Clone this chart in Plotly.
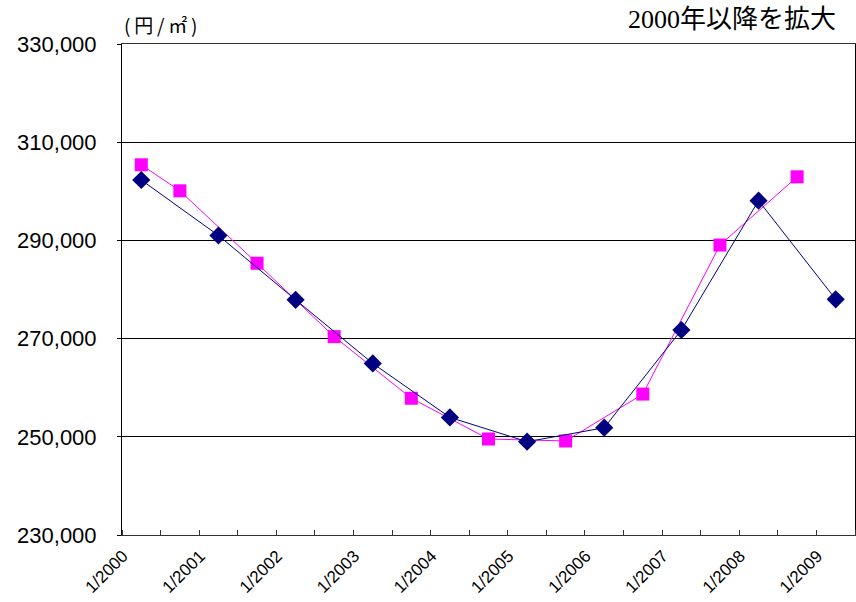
import plotly.graph_objects as go

# half-year periods (Jan / Jul)
periods = ["1/2000", "7/2000", "1/2001", "7/2001", "1/2002", "7/2002", "1/2003", "7/2003",
           "1/2004", "7/2004", "1/2005", "7/2005", "1/2006", "7/2006", "1/2007", "7/2007",
           "1/2008", "7/2008", "1/2009"]
tick_labels = ["1/2000", "1/2001", "1/2002", "1/2003", "1/2004", "1/2005", "1/2006",
               "1/2007", "1/2008", "1/2009"]

# navy series (January values)
navy_vals = [302300, None, 291000, None, 277900, None, 264950, None, 253950, None,
             249000, None, 251850, None, 271750, None, 298100, None, 278000]
# magenta series (July values, plus Jan 2000)
magenta_vals = [305400, 300100, None, 285350, None, 270400, None, 257850, None, 249550,
                None, 249150, None, 258700, None, 289050, None, 302950, None]

x_idx = list(range(len(periods)))
tick_pos = [i for i, p in enumerate(periods) if p in tick_labels]
pad = "\u00a0"

fig = go.Figure()
fig.add_trace(go.Scatter(
    x=x_idx, y=magenta_vals, mode="lines+markers", connectgaps=True,
    line=dict(color="#FF00FF", width=1),
    marker=dict(symbol="square", size=13, color="#FF00FF"),
    showlegend=False, hoverinfo="skip"))
fig.add_trace(go.Scatter(
    x=x_idx, y=navy_vals, mode="lines+markers", connectgaps=True,
    line=dict(color="#000080", width=1),
    marker=dict(symbol="diamond", size=14, color="#000080"),
    showlegend=False, hoverinfo="skip"))

fig.update_layout(
    width=856, height=602,
    margin=dict(l=122, r=1, t=44, b=67),
    paper_bgcolor="white", plot_bgcolor="white",
    font=dict(family="Liberation Sans, Arial, sans-serif", color="black"),
    xaxis=dict(
        range=[-0.5, len(periods) - 0.5], automargin=False,
        tickmode="array", tickvals=tick_pos, ticktext=[t + pad for t in tick_labels],
        tickangle=-45, ticks="", showgrid=False, zeroline=False,
        showline=True, linecolor="#333333", linewidth=1, mirror=True,
        tickfont=dict(size=17), ticklabelshift=-15,
        minor=dict(tickmode="array",
                   tickvals=[i - 0.5 for i in range(len(periods) + 1)],
                   ticks="inside", ticklen=5, tickcolor="#333333", showgrid=False),
    ),
    yaxis=dict(
        range=[230000, 330000], dtick=20000, tick0=230000, automargin=False,
        tickformat=",d", showgrid=True, gridcolor="black", gridwidth=1,
        zeroline=False, ticks="outside", ticklen=4, tickcolor="black",
        showline=True, linecolor="black", linewidth=1,
        mirror=True, tickfont=dict(size=22), ticklabelstandoff=16,
    ),
    annotations=[
        dict(text="(\u2009円\u2009/\u2009㎡\u2009)", xref="paper", yref="paper", x=0.0, y=1.0,
             xanchor="left", yanchor="bottom", yshift=4, showarrow=False,
             font=dict(size=19, family="Noto Sans CJK JP, sans-serif")),
        dict(text="2000年以降を拡大", xref="paper", yref="paper", x=0.977, y=1.0,
             xanchor="right", yanchor="bottom", yshift=8, showarrow=False,
             font=dict(size=26, family="Liberation Serif, Noto Sans CJK JP, serif")),
    ],
)

fig.write_html("out.html", post_script="document.body.style.margin='0';",
               config={"displayModeBar": False})
